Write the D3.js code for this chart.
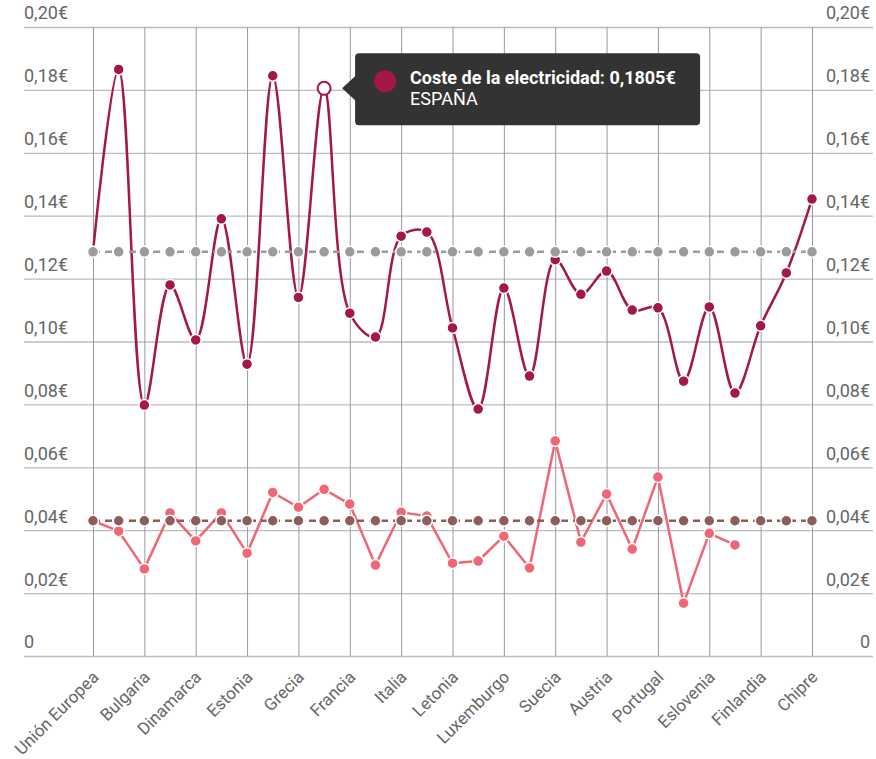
<!DOCTYPE html>
<html><head><meta charset="utf-8">
<script src="https://cdn.jsdelivr.net/npm/d3@7"></script>
<style>
body{margin:0;background:#fff;font-family:Roboto,"Noto Sans",sans-serif;}
svg{display:block}
</style></head><body>
<svg id="c" width="876" height="759"></svg>
<script>
const categories = ["Unión Europea","Bélgica","Bulgaria","Chequia","Dinamarca","Alemania","Estonia","Irlanda","Grecia","España","Francia","Croacia","Italia","Lituania","Letonia","Malta","Luxemburgo","Hungría","Suecia","Países Bajos","Austria","Polonia","Portugal","Rumanía","Eslovenia","Eslovaquia","Finlandia","Noruega","Chipre"];
const labeledCategories = ["Unión Europea","Bulgaria","Dinamarca","Estonia","Grecia","Francia","Italia","Letonia","Luxemburgo","Suecia","Austria","Portugal","Eslovenia","Finlandia","Chipre"];
const costeElectricidad = [0.1285,0.1865,0.0798,0.118,0.1005,0.139,0.0928,0.1845,0.114,0.1805,0.109,0.1014,0.1335,0.1348,0.1043,0.0785,0.117,0.089,0.126,0.115,0.1224,0.110,0.1107,0.0874,0.111,0.0836,0.105,0.1218,0.1453];
const impuestos = [0.043,0.0397,0.0277,0.0455,0.0366,0.0455,0.0327,0.052,0.0473,0.053,0.0483,0.0289,0.0457,0.0445,0.0295,0.0302,0.0381,0.028,0.0684,0.0362,0.0515,0.034,0.0569,0.0168,0.039,0.0353,null,null,null];
const mediaCoste = categories.map(() => 0.1285);
const mediaImpuestos = categories.map(() => 0.043);
const yTicks = [0,0.02,0.04,0.06,0.08,0.10,0.12,0.14,0.16,0.18,0.20];
const tooltipTitle = "Coste de la electricidad: 0,1805€";
const tooltipSub = "ESPAÑA";
const highlighted = "España";

const svg = d3.select("#c");
const pLeft = 24, pRight = 873, pTop = 27, pBottom = 656;
const x = d3.scalePoint().domain(categories).range([93, 812]);
const y = d3.scaleLinear().domain([0, 0.20]).range([pBottom, pTop]);
const fmt = v => v === 0 ? "0" : d3.format(".2f")(v).replace(".", ",") + "€";

// horizontal grid + left labels
const gy = svg.append("g").attr("transform", `translate(${pLeft},0)`)
  .call(d3.axisRight(y).tickValues(yTicks).tickSize(pRight - pLeft).tickFormat(fmt));
gy.select(".domain").remove();
gy.selectAll(".tick line").attr("stroke", "#bdbdbd").attr("stroke-width", 1.3);
gy.selectAll(".tick text").attr("x", 0).attr("dy", "-0.45em").attr("text-anchor", "start")
  .attr("fill", "#666").style("font-size", "18px").style("font-family", "Roboto");

// right labels
const gy2 = svg.append("g").attr("transform", `translate(${pRight - 3},0)`)
  .call(d3.axisLeft(y).tickValues(yTicks).tickSize(0).tickFormat(fmt));
gy2.select(".domain").remove();
gy2.selectAll(".tick text").attr("x", 0).attr("dy", "-0.45em").attr("text-anchor", "end")
  .attr("fill", "#666").style("font-size", "18px").style("font-family", "Roboto");

// vertical grid + x labels
const gx = svg.append("g").attr("transform", `translate(0,${pBottom})`)
  .call(d3.axisBottom(x).tickValues(labeledCategories).tickSize(-(pBottom - pTop)).tickPadding(6));
gx.select(".domain").remove();
gx.selectAll(".tick line").attr("stroke", "#999").attr("stroke-width", 1);
gx.selectAll(".tick text").attr("text-anchor", "end").attr("fill", "#666")
  .style("font-size", "17px").style("font-family", "Roboto")
  .attr("transform", "translate(2,18) rotate(-45)").attr("dy", "0.35em").attr("y", 0).attr("x", 0);

// series
const cDark = "#a3174a", cPink = "#ef6674", cGray = "#9b9b9b", cBrown = "#8c5d5b";
const dataOf = arr => categories.map((c, i) => ({c, v: arr[i]}));

const lineCR = d3.line().defined(d => d.v != null).x(d => x(d.c)).y(d => y(d.v)).curve(d3.curveCatmullRom.alpha(0.5));
const lineLin = d3.line().defined(d => d.v != null).x(d => x(d.c)).y(d => y(d.v));

function markers(data, color, r) {
  svg.append("g").selectAll("circle").data(data.filter(d => d.v != null)).join("circle")
    .attr("cx", d => x(d.c)).attr("cy", d => y(d.v)).attr("r", r)
    .attr("fill", color).attr("stroke", "#fff").attr("stroke-width", 1.5);
}

// dark series
const darkData = dataOf(costeElectricidad);
svg.append("path").datum(darkData).attr("d", lineCR).attr("fill", "none")
  .attr("stroke", cDark).attr("stroke-width", 2.5);
markers(darkData.filter(d => d.c !== highlighted), cDark, 5.5);
const hd = darkData.find(d => d.c === highlighted);
svg.append("circle").attr("cx", x(hd.c)).attr("cy", y(hd.v)).attr("r", 6.5)
  .attr("fill", "#fff").attr("stroke", cDark).attr("stroke-width", 2);

// pink series
const pinkData = dataOf(impuestos);
svg.append("path").datum(pinkData).attr("d", lineLin).attr("fill", "none")
  .attr("stroke", cPink).attr("stroke-width", 2.5);
markers(pinkData, cPink, 5.5);

// averages
const grayData = dataOf(mediaCoste), brownData = dataOf(mediaImpuestos);
svg.append("path").datum(grayData).attr("d", lineLin).attr("fill", "none")
  .attr("stroke", cGray).attr("stroke-width", 2.5).attr("stroke-dasharray", "7,5");
markers(grayData, cGray, 5.5);
svg.append("path").datum(brownData).attr("d", lineLin).attr("fill", "none")
  .attr("stroke", cBrown).attr("stroke-width", 2.5).attr("stroke-dasharray", "7,5");
markers(brownData, cBrown, 5.5);

// tooltip
const px = x(hd.c), py = y(hd.v);
const tx = px + 31, tw = 345, th = 72, ty = py - 35;
const tt = svg.append("g");
tt.append("path").attr("fill", "#333")
  .attr("d", `M${tx + 4},${ty} H${tx + tw - 4} Q${tx + tw},${ty} ${tx + tw},${ty + 4} V${ty + th - 4} Q${tx + tw},${ty + th} ${tx + tw - 4},${ty + th} H${tx + 4} Q${tx},${ty + th} ${tx},${ty + th - 4} V${py + 12} L${px + 18},${py} L${tx},${py - 12} V${ty + 4} Q${tx},${ty} ${tx + 4},${ty} Z`);
tt.append("circle").attr("cx", tx + 30).attr("cy", ty + 28).attr("r", 11).attr("fill", cDark);
tt.append("text").attr("x", tx + 55).attr("y", ty + 31).attr("fill", "#fff")
  .style("font-size", "18px").style("font-weight", "bold").style("font-family", "Roboto").text(tooltipTitle);
tt.append("text").attr("x", tx + 55).attr("y", ty + 52).attr("fill", "#fff")
  .style("font-size", "18px").style("font-family", "Roboto").text(tooltipSub);
</script>
</body></html>
